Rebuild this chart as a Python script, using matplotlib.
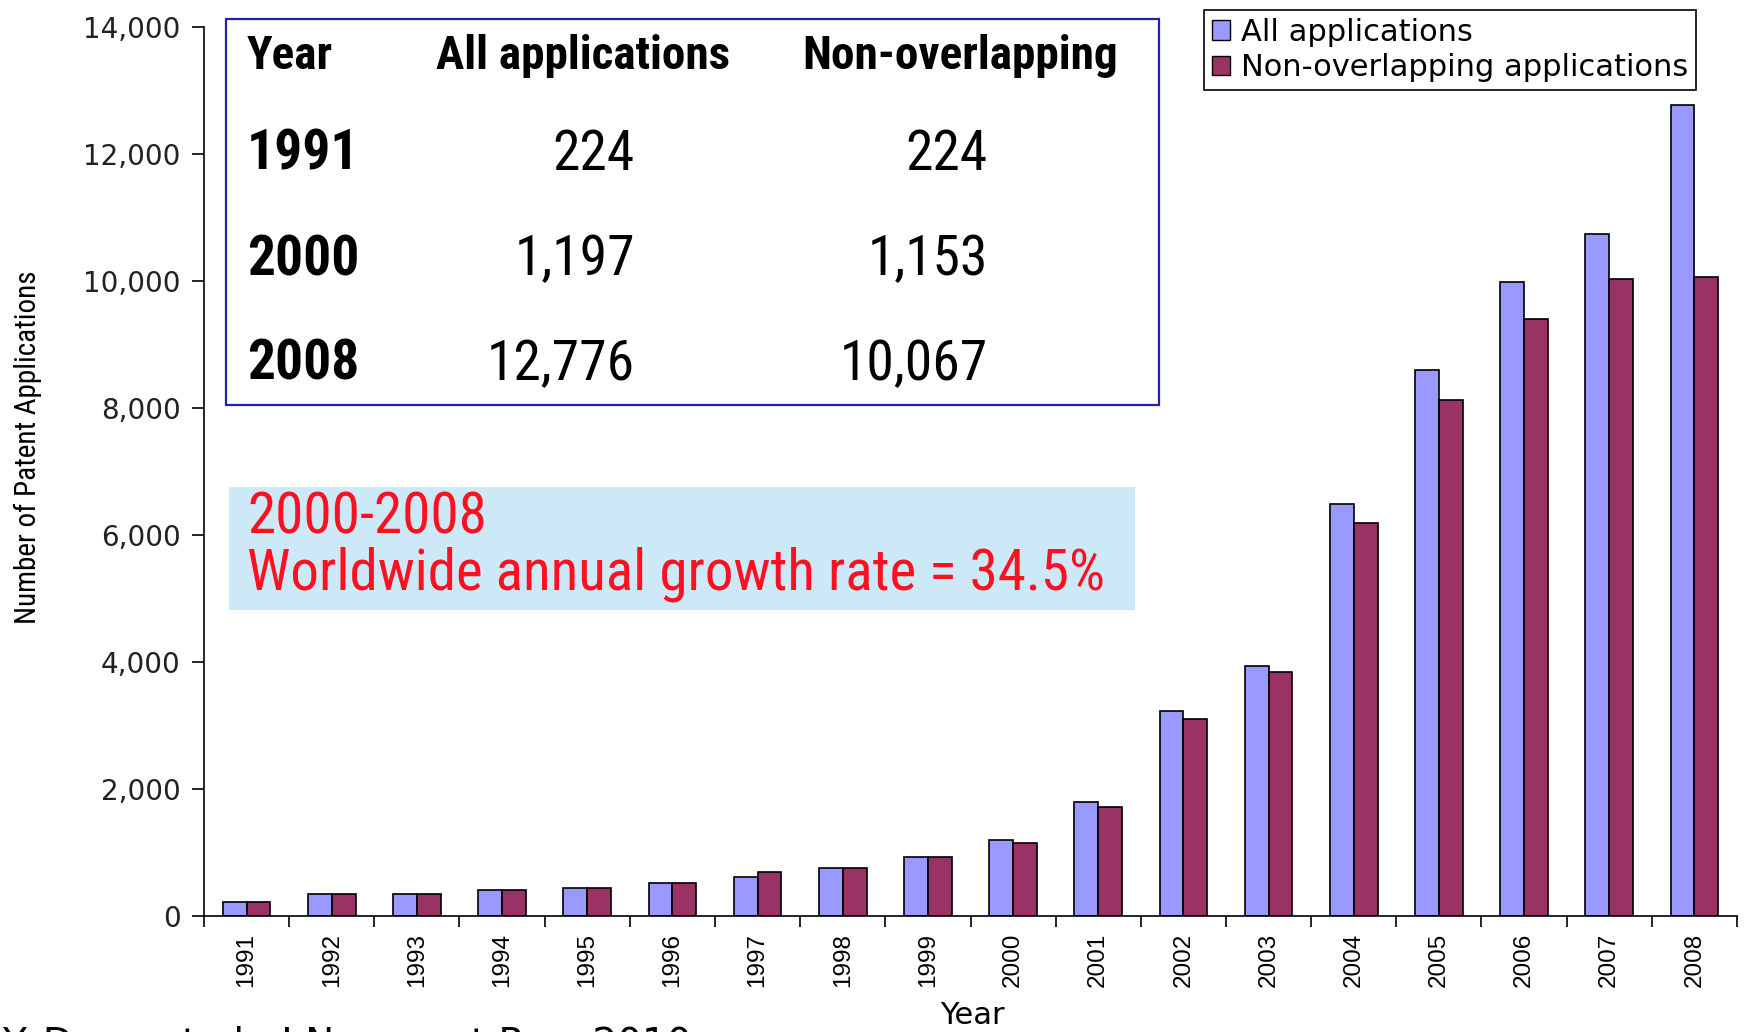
import numpy as np
import matplotlib.pyplot as plt
from matplotlib.patches import Rectangle, Patch

years = [str(y) for y in range(1991, 2009)]
all_apps = [224, 352, 352, 410, 436, 520, 609, 751, 929, 1197,
            1790, 3230, 3930, 6490, 8595, 9980, 10735, 12776]
non_overlap = [224, 350, 350, 410, 436, 520, 693, 751, 929, 1153,
               1720, 3105, 3840, 6190, 8120, 9400, 10030, 10067]

table_header = ['Year', 'All applications', 'Non-overlapping']
table_years = ['1991', '2000', '2008']
table_all = ['224', '1,197', '12,776']
table_non = ['224', '1,153', '10,067']

W, H = 1748, 1032
narrow = ['Roboto Condensed', 'DejaVu Sans']

fig = plt.figure(figsize=(W / 100, H / 100), dpi=100)
ax = fig.add_axes([204 / W, 1 - 916 / H, (1737 - 204) / W, (916 - 27) / H])


def fx(px):
    return px / W


def fy(py):
    return 1 - py / H


x = np.arange(len(years))
bw = 0.28
ax.bar(x - bw / 2, all_apps, bw, color='#9999FF', edgecolor='black', lw=1.2,
       label='All applications')
ax.bar(x + bw / 2, non_overlap, bw, color='#993366', edgecolor='black', lw=1.2,
       label='Non-overlapping applications')

ax.set_xlim(-0.5, len(years) - 0.5)
ax.set_ylim(0, 14000)
ax.set_yticks(range(0, 14001, 2000))
ax.set_yticklabels([f'{v:,}' for v in range(0, 14001, 2000)])
ax.set_xticks(x)
ax.set_xticklabels(years, rotation=90, family='Liberation Sans', fontsize=17.5)
ax.set_xticks(np.arange(-0.5, len(years)), minor=True)
ax.tick_params(axis='x', which='major', length=0, pad=12)
ax.tick_params(axis='x', which='minor', length=8, width=1.2)
ax.tick_params(axis='y', length=9, width=1.2, pad=8, labelsize=20, labelcolor='#222222')
for s in ['top', 'right']:
    ax.spines[s].set_visible(False)
for s in ['left', 'bottom']:
    ax.spines[s].set_linewidth(1.2)

fig.text(fx(972), fy(1015), 'Year', ha='center', va='center', fontsize=22)
fig.text(fx(28), fy(447), 'Number of Patent Applications', rotation=90,
         ha='center', va='center', family=narrow, fontsize=21)

handles = [Patch(facecolor='#9999FF', edgecolor='black'),
           Patch(facecolor='#993366', edgecolor='black')]
leg = fig.legend(handles, ['All applications', 'Non-overlapping applications'],
                 loc='upper right', bbox_to_anchor=(fx(1696), fy(10)),
                 fancybox=False, edgecolor='black', fontsize=22, framealpha=1,
                 handlelength=0.6, handleheight=0.6, handletextpad=0.35,
                 labelspacing=0.22, borderpad=0.25, borderaxespad=0)
leg.get_frame().set_linewidth(1.2)

# summary table box
fig.patches.append(Rectangle((fx(226), fy(405)), fx(1159) - fx(226), fy(19) - fy(405),
                             transform=fig.transFigure, facecolor='white',
                             edgecolor='#2222AA', lw=1.6, zorder=5))
fig.text(fx(247), fy(56), table_header[0], ha='left', va='center',
         family=narrow, fontweight='bold', fontsize=34, zorder=6)
fig.text(fx(583), fy(56), table_header[1], ha='center', va='center',
         family=narrow, fontweight='bold', fontsize=34, zorder=6)
fig.text(fx(960), fy(56), table_header[2], ha='center', va='center',
         family=narrow, fontweight='bold', fontsize=34, zorder=6)
for i, py in enumerate([155, 260, 365]):
    fig.text(fx(247), fy(py), table_years[i], ha='left', va='center',
             family=narrow, fontweight='bold', fontsize=40, zorder=6)
    fig.text(fx(635), fy(py), table_all[i], ha='right', va='center',
             family=narrow, fontsize=40, zorder=6)
    fig.text(fx(988), fy(py), table_non[i], ha='right', va='center',
             family=narrow, fontsize=40, zorder=6)

# growth rate note
fig.patches.append(Rectangle((fx(229), fy(610)), fx(1135) - fx(229), fy(487) - fy(610),
                             transform=fig.transFigure, facecolor='#CDE9F8',
                             edgecolor='none', zorder=5))
fig.text(fx(247), fy(518), '2000-2008', ha='left', va='center',
         family=narrow, fontsize=41, color='#FF1020', zorder=6)
fig.text(fx(247), fy(574), 'Worldwide annual growth rate = 34.5%', ha='left', va='center',
         family=narrow, fontsize=41, color='#FF1020', zorder=6)

# source line, cut off at the bottom edge as in the original
fig.text(fx(2), fy(1026), 'Y. Dang et al., J Nanopart Res, 2010', ha='left', va='top',
         fontsize=28, color='black')

fig.savefig('out.png', dpi=100)
